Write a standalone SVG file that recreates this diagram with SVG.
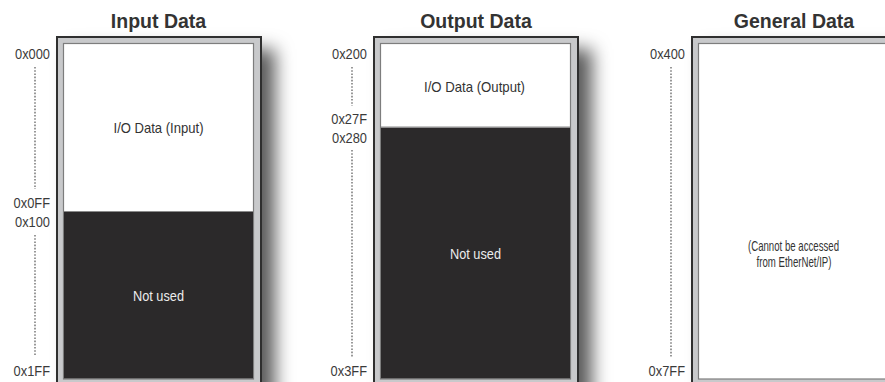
<svg xmlns="http://www.w3.org/2000/svg" width="885" height="382" viewBox="0 0 885 382">
<style>
.title{font-family:"Liberation Sans",Arial,sans-serif;font-weight:bold;font-size:19.5px;fill:#333;text-anchor:middle}
.addr{font-family:"Liberation Sans",Arial,sans-serif;font-size:15px;fill:#3a3a3a;text-anchor:end}
.lbl{font-family:"Liberation Sans",Arial,sans-serif;font-size:15px;fill:#333;text-anchor:middle}
.sm{font-family:"Liberation Sans",Arial,sans-serif;font-size:14.5px;fill:#333;text-anchor:middle}
.lblw{font-family:"Liberation Sans",Arial,sans-serif;font-size:15px;fill:#ececec;text-anchor:middle}
.outer{fill:#c8c9cb;stroke:#2f2f2f;stroke-width:2}
.inner{fill:#fff;stroke:#7d7d7d;stroke-width:1.2}
.dark{fill:#2b292a}
.div{stroke:#8a8a8a;stroke-width:1}
.dot{stroke:#555;stroke-width:1.2;stroke-dasharray:1.6 1.6;fill:none}
</style>
<defs>
<filter id="sh" x="-20%" y="-20%" width="160%" height="160%">
<feGaussianBlur in="SourceAlpha" stdDeviation="9"/>
<feOffset dx="14" dy="12" result="b"/>
<feFlood flood-color="#000" flood-opacity="0.65"/>
<feComposite in2="b" operator="in"/>
</filter>
</defs>
<rect width="885" height="382" fill="#fff"/>

<g id="input-data">
<text class="title" x="158.5" y="28">Input Data</text>
<rect x="57" y="37" width="204" height="360" fill="#000" filter="url(#sh)"/>
<rect class="outer" x="57" y="37" width="204" height="360"/>
<rect class="inner" x="63.5" y="43.5" width="190" height="335.5"/>
<rect class="dark" x="64" y="212" width="189" height="166.5"/>
<line class="div" x1="64" y1="211.5" x2="253" y2="211.5"/>
<text class="lbl" x="158.5" y="133" textLength="90" lengthAdjust="spacingAndGlyphs">I/O Data (Input)</text>
<text class="lblw" x="158.5" y="301" textLength="51" lengthAdjust="spacingAndGlyphs">Not used</text>
</g>

<g id="output-data">
<text class="title" x="476" y="28">Output Data</text>
<rect x="374" y="37" width="204" height="360" fill="#000" filter="url(#sh)"/>
<rect class="outer" x="374" y="37" width="204" height="360"/>
<rect class="inner" x="380.5" y="43.5" width="190" height="335.5"/>
<rect class="dark" x="381" y="127.5" width="189" height="251"/>
<line class="div" x1="381" y1="127" x2="570" y2="127"/>
<text class="lbl" x="474.5" y="92" textLength="101" lengthAdjust="spacingAndGlyphs">I/O Data (Output)</text>
<text class="lblw" x="475.5" y="259" textLength="51" lengthAdjust="spacingAndGlyphs">Not used</text>
</g>

<g id="general-data">
<text class="title" x="794" y="28">General Data</text>
<rect x="692" y="37" width="204" height="360" fill="#000" filter="url(#sh)"/>
<rect class="outer" x="692" y="37" width="204" height="360"/>
<rect class="inner" x="698.5" y="43.5" width="190" height="335.5"/>
<text class="sm" x="793.5" y="250.5" textLength="91" lengthAdjust="spacingAndGlyphs">(Cannot be accessed</text>
<text class="sm" x="794" y="267" textLength="75" lengthAdjust="spacingAndGlyphs">from EtherNet/IP)</text>
</g>

<g id="address-labels">
<text class="addr" x="50" y="58.5" textLength="35" lengthAdjust="spacingAndGlyphs">0x000</text>
<text class="addr" x="50" y="208" textLength="36.4" lengthAdjust="spacingAndGlyphs">0x0FF</text>
<text class="addr" x="50" y="227" textLength="35" lengthAdjust="spacingAndGlyphs">0x100</text>
<text class="addr" x="50" y="375.5" textLength="36.4" lengthAdjust="spacingAndGlyphs">0x1FF</text>
<text class="addr" x="367" y="58.5" textLength="35" lengthAdjust="spacingAndGlyphs">0x200</text>
<text class="addr" x="367" y="123.5" textLength="35.7" lengthAdjust="spacingAndGlyphs">0x27F</text>
<text class="addr" x="367" y="142.5" textLength="35" lengthAdjust="spacingAndGlyphs">0x280</text>
<text class="addr" x="367" y="375.5" textLength="36.4" lengthAdjust="spacingAndGlyphs">0x3FF</text>
<text class="addr" x="685" y="58.5" textLength="35" lengthAdjust="spacingAndGlyphs">0x400</text>
<text class="addr" x="685" y="375.5" textLength="36.4" lengthAdjust="spacingAndGlyphs">0x7FF</text>
</g>

<g id="connectors">
<line class="dot" x1="35" y1="67" x2="35" y2="189"/>
<line class="dot" x1="35" y1="235" x2="35" y2="356"/>
<line class="dot" x1="352" y1="67" x2="352" y2="106"/>
<line class="dot" x1="352" y1="150" x2="352" y2="357"/>
<line class="dot" x1="671" y1="67" x2="671" y2="357"/>
</g>
</svg>
